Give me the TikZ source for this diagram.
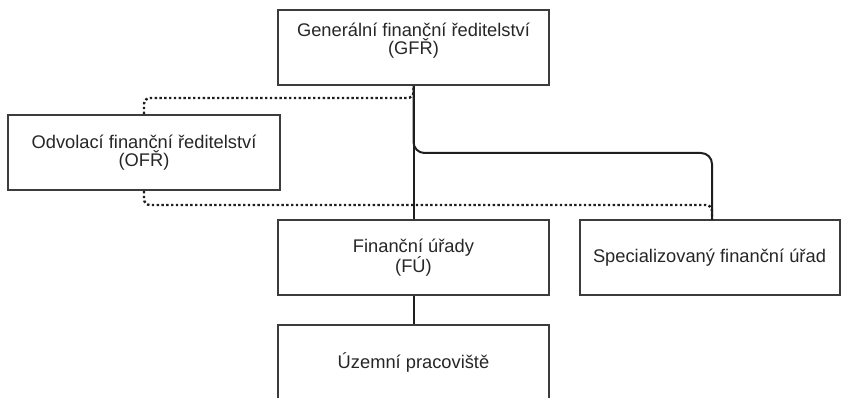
\documentclass[tikz,border=0pt]{standalone}
\usepackage{fontspec}
\setmainfont{Liberation Sans}
\definecolor{boxline}{HTML}{3C3C3C}
\definecolor{linkline}{HTML}{1E1E1E}
\definecolor{labeltext}{HTML}{262626}
\begin{document}
\begin{tikzpicture}[x=1pt, y=-1pt,
  office/.style={draw=boxline, line width=2pt, inner sep=0pt, align=center, text=labeltext, minimum width=271pt, minimum height=75pt, font=\fontsize{18.3}{17.5}\selectfont},
  link/.style={draw=linkline, line width=2pt, rounded corners=11pt},
  appeal/.style={draw=linkline, line width=2.4pt, dash pattern=on 2.4pt off 2.4pt, rounded corners=6pt}]
\useasboundingbox (0,0) rectangle (841,398);

\node (gfr) [office] at (413.5,47.5) {Generální finanční ředitelství\\(GFŘ)\\ \mbox{}};
\node (ofr) [office, minimum width=272pt] at (144,152.5) {Odvolací finanční ředitelství\\(OFŘ)};
\node (fu) [office] at (413.5,257.5) {Finanční úřady\\(FÚ)};
\node (sfu) [office, minimum width=260pt] at (709.5,257.5) {Specializovaný finanční úřad};
\node (up) [office] at (413.5,362.5) {Územní pracoviště};

\draw [link] (gfr) -- (fu);
\draw [link] (gfr.south) -- (413.5,153) -- (712,153) -- (712,220);
\draw [link] (fu) -- (up);

\draw [appeal] (ofr.north) -- (144,98) -- (413.5,98) -- (gfr.south);
\draw [appeal] (ofr.south) -- (144,205) -- (712,205) -- (712,220);

\end{tikzpicture}
\end{document}
